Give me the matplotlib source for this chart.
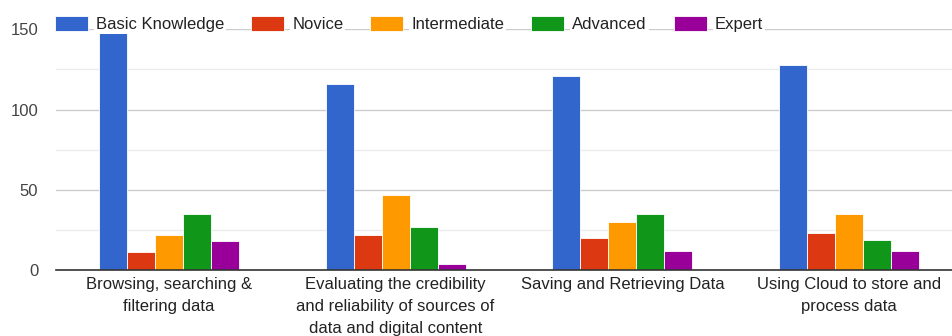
import matplotlib
matplotlib.use("Agg")
import matplotlib.pyplot as plt
import numpy as np

categories = [
    "Browsing, searching &\nfiltering data",
    "Evaluating the credibility\nand reliability of sources of\ndata and digital content",
    "Saving and Retrieving Data",
    "Using Cloud to store and\nprocess data",
]
levels = ["Basic Knowledge", "Novice", "Intermediate", "Advanced", "Expert"]
basic = [148, 116, 121, 128]
novice = [11, 22, 20, 23]
intermediate = [22, 47, 30, 35]
advanced = [35, 27, 35, 19]
expert = [18, 4, 12, 12]
colors = ["#3366cc", "#dc3912", "#ff9900", "#109618", "#990099"]
yticks = [0, 50, 100, 150]

series = [basic, novice, intermediate, advanced, expert]

FS = 12
plt.rcParams["font.family"] = ["Liberation Sans", "DejaVu Sans"]
plt.rcParams["font.size"] = FS

W, H = 952, 336
fig = plt.figure(figsize=(W / 100, H / 100), dpi=100)
ax = fig.add_axes([55.5 / W, 66 / H, 907 / W, 240.7 / H])

x = np.arange(len(categories))
bw = 0.1233
for i, (vals, name, col) in enumerate(zip(series, levels, colors)):
    ax.bar(x + (i - 2) * bw, vals, width=bw, color=col, edgecolor="white",
           linewidth=0.6, label=name, zorder=3)

ax.set_xlim(-0.5, len(categories) - 0.5)
ax.set_ylim(0, 150)
ax.set_yticks(yticks)
ax.set_yticks([25, 75, 125], minor=True)
ax.set_xticks(x)
ax.set_xticklabels(categories, linespacing=1.6, color="#222222")
ax.tick_params(axis="both", which="both", length=0, labelsize=FS)
ax.tick_params(axis="y", pad=12.5, colors="#444444")
ax.tick_params(axis="x", pad=5)
ax.grid(axis="y", which="major", color="#cccccc", linewidth=1, zorder=0)
ax.grid(axis="y", which="minor", color="#ebebeb", linewidth=1, zorder=0)
for s in ["top", "right", "left"]:
    ax.spines[s].set_visible(False)
ax.spines["bottom"].set_color("#333333")
ax.spines["bottom"].set_linewidth(1.2)
ax.spines["bottom"].set_zorder(4)

leg = ax.legend(loc="center left", bbox_to_anchor=(55 / W, 1 - 24 / H),
                bbox_transform=fig.transFigure, ncol=5, frameon=False,
                handlelength=1.98, handleheight=0.96, handletextpad=0.48,
                columnspacing=1.62, borderpad=0, borderaxespad=0,
                fontsize=FS)
for t in leg.get_texts():
    t.set_color("#222222")
    t.set_bbox(dict(facecolor="white", edgecolor="none", pad=1.5))
leg.set_zorder(10)

fig.savefig("out.png", dpi=100)
